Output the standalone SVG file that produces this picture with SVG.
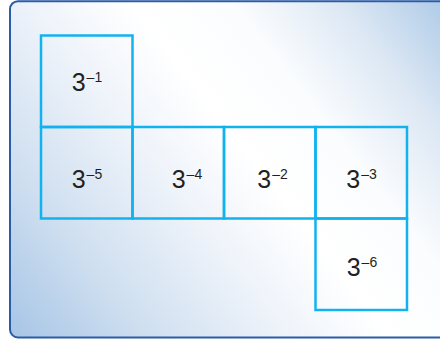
<svg xmlns="http://www.w3.org/2000/svg" width="440" height="344" viewBox="0 0 440 344">
<defs>
<linearGradient id="bg" gradientUnits="userSpaceOnUse" x1="10" y1="337" x2="440" y2="1">
<stop offset="0" stop-color="#a7c5e6"/>
<stop offset="0.2" stop-color="#cfdff0"/>
<stop offset="0.4" stop-color="#eef3fa"/>
<stop offset="0.55" stop-color="#ffffff"/>
<stop offset="0.7" stop-color="#fafcfe"/>
<stop offset="0.85" stop-color="#dde8f4"/>
<stop offset="1" stop-color="#b0cce8"/>
</linearGradient>
</defs>
<style>
.cell{fill:none;stroke:#12b2ef;stroke-width:2.5}
.lbl{font-family:"Liberation Sans",Arial,sans-serif;font-size:25px;fill:#231f20}
.sup{font-size:14px}
</style>
<rect x="0" y="0" width="440" height="344" fill="#ffffff"/>
<rect id="frame" x="10" y="1.2" width="440" height="336.3" rx="8" fill="url(#bg)" stroke="#2b5ca8" stroke-width="2"/>
<g id="cell-m1"><rect class="cell" x="41" y="35.5" width="91.5" height="91.5"/><text class="lbl" x="71.7" y="90.5">3<tspan class="sup" dx="1" dy="-9">–1</tspan></text></g>
<g id="cell-m5"><rect class="cell" x="41" y="127" width="91.5" height="91.5"/><text class="lbl" x="71.7" y="187.5">3<tspan class="sup" dx="1" dy="-9">–5</tspan></text></g>
<g id="cell-m4"><rect class="cell" x="132.5" y="127" width="91.5" height="91.5"/><text class="lbl" x="171.7" y="187.5">3<tspan class="sup" dx="1" dy="-9">–4</tspan></text></g>
<g id="cell-m2"><rect class="cell" x="224" y="127" width="91.5" height="91.5"/><text class="lbl" x="257.3" y="187.5">3<tspan class="sup" dx="1" dy="-9">–2</tspan></text></g>
<g id="cell-m3"><rect class="cell" x="315.5" y="127" width="91.5" height="91.5"/><text class="lbl" x="346.3" y="187.5">3<tspan class="sup" dx="1" dy="-9">–3</tspan></text></g>
<g id="cell-m6"><rect class="cell" x="315.5" y="218.5" width="91.5" height="91.5"/><text class="lbl" x="346.7" y="276">3<tspan class="sup" dx="1" dy="-9">–6</tspan></text></g>
</svg>
